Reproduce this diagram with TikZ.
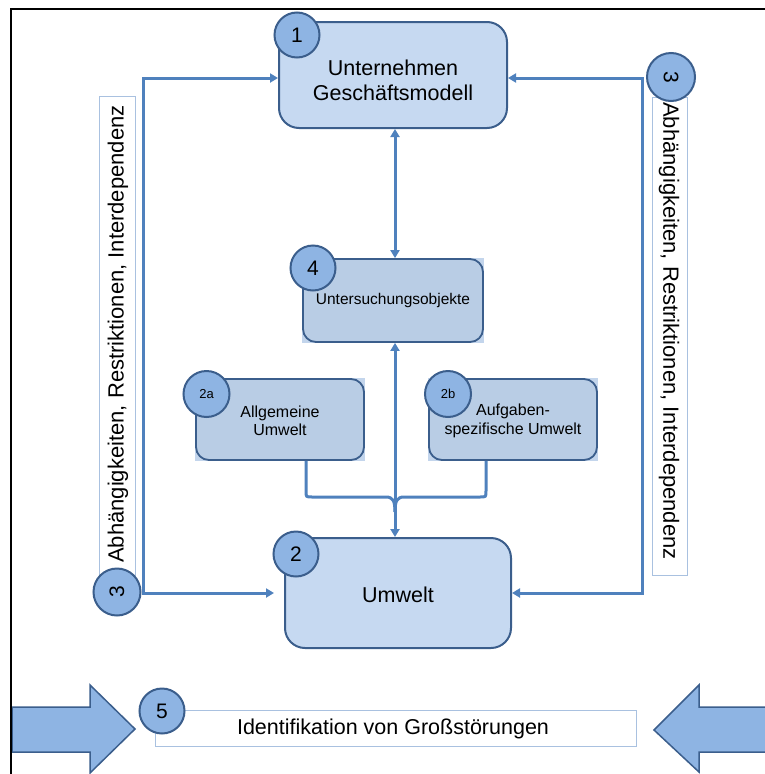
\documentclass[tikz,border=0pt]{standalone}
\usepackage{fontspec}
\setmainfont{Liberation Sans}
\usetikzlibrary{arrows.meta}
\definecolor{boxfill}{HTML}{C6D9F1}
\definecolor{smallfill}{HTML}{B9CDE5}
\definecolor{cornerfill}{HTML}{C3D5EC}
\definecolor{circfill}{HTML}{8EB4E3}
\definecolor{bordc}{HTML}{3B5E8C}
\definecolor{connc}{HTML}{4F81BD}
\definecolor{tboxc}{HTML}{A9C1E0}
\begin{document}
\begin{tikzpicture}[x=1pt,y=-1pt,
  bigbox/.style={draw=bordc, line width=2pt, fill=boxfill, rounded corners=20pt, inner sep=0pt, align=center, font=\fontsize{21.5}{25}\selectfont},
  bigtext/.style={align=center, inner sep=0pt, font=\fontsize{21.5}{25}\selectfont},
  smallbox/.style={draw=bordc, line width=1.8pt, fill=smallfill, rounded corners=13pt, inner sep=0pt, align=center, font=\fontsize{16}{18.5}\selectfont},
  numc/.style={circle, draw=bordc, line width=2pt, fill=circfill, minimum size=45pt, inner sep=0pt, font=\fontsize{21}{21}\selectfont},
  numcs/.style={numc, font=\fontsize{13}{13}\selectfont},
  conn/.style={draw=connc, line width=3pt},
  arr/.style={conn, {Triangle[length=8pt,width=9pt]}-{Triangle[length=8pt,width=9pt]}},
  tbox/.style={draw=tboxc, line width=1pt, fill=white, inner sep=0pt, font=\fontsize{22}{22}\selectfont},
  bigarrow/.style={fill=circfill, draw=bordc, line width=1.5pt, line join=miter}
]
\useasboundingbox (0,0) rectangle (764,774);

% side text boxes
\node[tbox, minimum width=36pt, minimum height=479pt] (tl) at (117,335.5) {};
\node[rotate=90, inner sep=0pt, font=\fontsize{22}{22}\selectfont] (tlt) at (118,334) {Abhängigkeiten, Restriktionen, Interdependenz};
\node[tbox, minimum width=35pt, minimum height=478pt] (tr) at (669.5,336) {};
\node[rotate=-90, inner sep=0pt, font=\fontsize{22}{22}\selectfont] (trt) at (669,331) {Abhängigkeiten, Restriktionen, Interdependenz};

% main boxes
\node[bigbox, minimum width=228pt, minimum height=106pt] (b1) at (393,75) {};
\node[bigtext] (b1t) at (393,80) {Unternehmen\\Geschäftsmodell};
\fill[cornerfill] (302,258) rectangle (484,343);
\node[smallbox, minimum width=180pt, minimum height=83pt, font=\fontsize{15.5}{18}\selectfont] (b4) at (393,300.5) {Untersuchungsobjekte};
\fill[cornerfill] (195,378) rectangle (365,461);
\node[smallbox, minimum width=168pt, minimum height=81pt] (b2a) at (280,419.5) {};
\node[align=center, inner sep=0pt, font=\fontsize{16}{18.5}\selectfont] (b2at) at (280,421) {Allgemeine\\Umwelt};
\fill[cornerfill] (428,378) rectangle (598,461);
\node[smallbox, minimum width=168pt, minimum height=81pt] (b2b) at (513,419.5) {};
\node[align=center, inner sep=0pt, font=\fontsize{16}{18.5}\selectfont] (b2bt) at (513,421) {Aufgaben-\\spezifische Umwelt};
\node[bigbox, minimum width=226pt, minimum height=110pt] (b2) at (398,593) {};
\node[bigtext] (b2t) at (398,595) {Umwelt};

% connectors
\coordinate (LT) at (143,78);
\coordinate (LB) at (143,593);
\coordinate (LBe) at (274,593);
\coordinate (RT) at (642,78);
\coordinate (RB) at (642,593);
\coordinate (CX) at (395,0);
\coordinate (BL) at (306,0);
\coordinate (BR) at (486,0);
\coordinate (BM) at (395,512);

\draw[arr] (b1.west |- LT) -- (LT) -- (LB) -- (LBe);
\draw[arr] (b1.east |- RT) -- (RT) -- (RB) -- (b2.east |- RB);
\draw[arr] (b1.south -| CX) -- (b4.north -| CX);
\draw[arr] (b4.south -| CX) -- (b2.north -| CX);
\draw[conn] (b2a.south -| BL) -- (306,491) .. controls (306,497) .. (312,497) -- (386,497) .. controls (393,497) and (395,501) .. (BM);
\draw[conn] (b2b.south -| BR) -- (486,491) .. controls (486,497) .. (480,497) -- (404,497) .. controls (397,497) and (395,501) .. (BM);

% bottom
\node[tbox, minimum width=481pt, minimum height=36pt] (t5) at (395.5,728) {};
\node[inner sep=0pt, font=\fontsize{21.5}{22}\selectfont] (t5t) at (393,729) {Identifikation von Großstörungen};
\path[bigarrow] (12,707) -- (90,707) -- (90,685) -- (135,729) -- (90,773) -- (90,752) -- (12,752) -- cycle;
\fill[circfill] (766,707) -- (699,707) -- (699,685) -- (654,730) -- (699,772) -- (699,752) -- (766,752) -- cycle;
\draw[bordc, line width=1.5pt, line join=miter] (766,707) -- (699,707) -- (699,685) -- (654,730) -- (699,772) -- (699,752) -- (766,752);

% number circles
\node[numc] (c1) at (297,35) {1};
\node[numc] (c4) at (313,268) {4};
\node[numcs, minimum size=46pt] (c2a) at (206.5,394) {2a};
\node[numcs, minimum size=46pt] (c2b) at (448,394) {2b};
\node[numc] (c2) at (296,554) {2};
\node[numc, minimum size=47pt, rotate=90] (c3l) at (117,592) {3};
\node[numc, minimum size=48pt, rotate=-90] (c3r) at (671,77) {3};
\node[numc] (c5) at (162,711) {5};

% frame
\draw[black, line width=2.2pt] (11,775) -- (11,9) -- (765,9);
\end{tikzpicture}
\end{document}
